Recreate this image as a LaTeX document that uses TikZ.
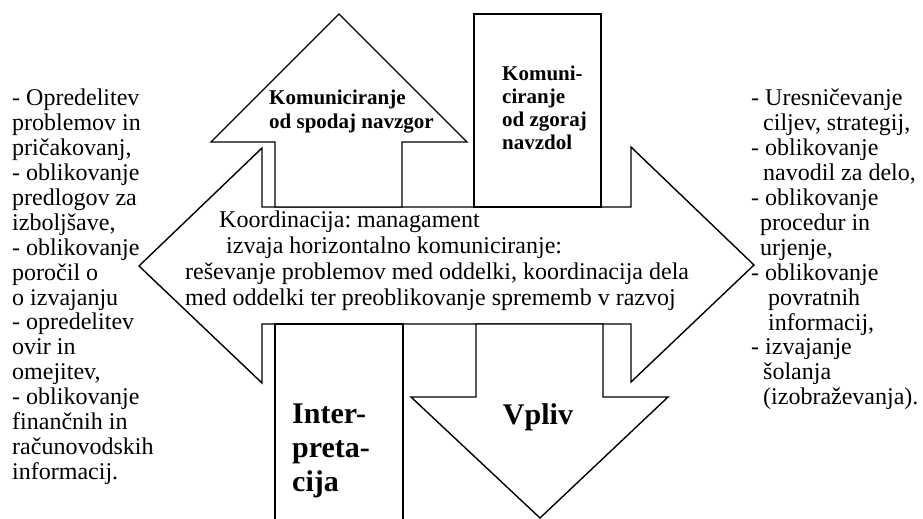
\documentclass[tikz,border=0pt]{standalone}
\usepackage{fontspec}
\setmainfont{Liberation Serif}
\frenchspacing
\begin{document}
\begin{tikzpicture}[x=1pt,y=-1pt,
  arrowshape/.style={line width=1.4pt, fill=white, line join=miter},
  plaintext/.style={font=\fontsize{24}{24.9}\selectfont, align=left, inner sep=0pt},
  boldtext/.style={font=\fontsize{21}{23}\selectfont\bfseries, align=left, inner sep=0pt},
  bigtext/.style={font=\fontsize{30}{34}\selectfont\bfseries, align=left, inner sep=0pt}]
\clip (0,0) rectangle (923,519);
% horizontal double arrow
\draw[arrowshape] (262,207) -- (262,148) -- (139,266) -- (262,383) -- (262,324) -- (631,324) -- (631,382) -- (754,265) -- (631,147) -- (631,207) -- cycle;
% up arrow
\draw[arrowshape] (275,207) -- (275,142) -- (211,142) -- (339,14) -- (467,142) -- (402,142) -- (402,207) -- cycle;
% top box
\draw[arrowshape] (474,14) rectangle (601,207);
% bottom box
\draw[arrowshape] (275,530) -- (275,324) -- (403,324) -- (403,530);
% down arrow
\draw[arrowshape] (476,324) -- (476,397) -- (411,397) -- (540,518) -- (668,397) -- (603,397) -- (603,324) -- cycle;
% texts
\node (left) [plaintext, anchor=north west] at (12,89) {- Opredelitev\\problemov in\\pričakovanj,\\- oblikovanje\\predlogov za\\izboljšave,\\- oblikovanje\\poročil o\\o izvajanju\\- opredelitev\\ovir in\\omejitev,\\- oblikovanje\\finančnih in\\računovodskih\\informacij.};
\node (right) [plaintext, anchor=north west] at (751,89) {- Uresničevanje\\\hspace*{12pt}ciljev, strategij,\\- oblikovanje\\\hspace*{12pt}navodil za delo,\\- oblikovanje\\\hspace*{9pt}procedur in\\\hspace*{9pt}urjenje,\\- oblikovanje\\\hspace*{17pt}povratnih\\\hspace*{17pt}informacij,\\- izvajanje\\\hspace*{12pt}šolanja\\\hspace*{12pt}(izobraževanja).};
\node (koord) [plaintext, font=\fontsize{24}{26}\selectfont, anchor=north west] at (185,211) {\hspace*{34pt}Koordinacija: managament\\\hspace*{41pt}izvaja horizontalno komuniciranje:\\reševanje problemov med oddelki, koordinacija dela\\med oddelki ter preoblikovanje sprememb v razvoj};
\node (gor) [boldtext, font=\fontsize{21}{24}\selectfont\bfseries, anchor=north west] at (269,90) {Komuniciranje\\od spodaj navzgor};
\node (dol) [boldtext, anchor=north west] at (502,66) {Komuni-\\ciranje\\od zgoraj\\navzdol};
\node (interp) [bigtext, anchor=north west] at (292,404) {Inter-\\preta-\\cija};
\node (vpliv) [bigtext, anchor=base] at (538,424) {Vpliv};
\end{tikzpicture}
\end{document}
